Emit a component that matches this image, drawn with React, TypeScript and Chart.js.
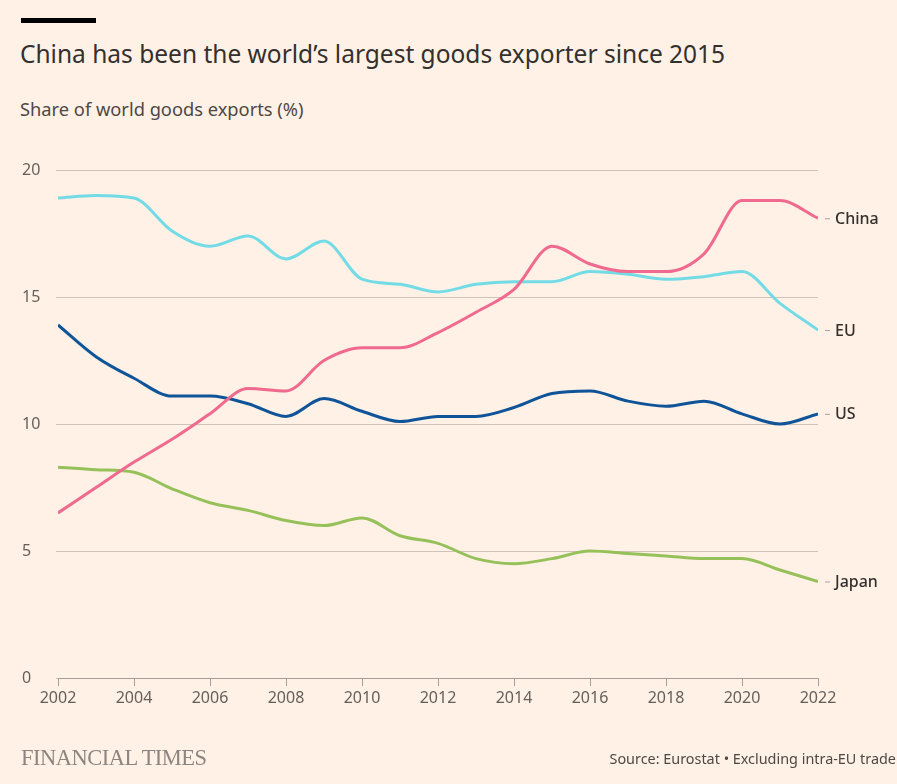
import React, { useEffect, useRef } from "react";
import { Chart, registerables } from "chart.js";

Chart.register(...registerables);

const years = [2002, 2003, 2004, 2005, 2006, 2007, 2008, 2009, 2010, 2011, 2012, 2013, 2014, 2015, 2016, 2017, 2018, 2019, 2020, 2021, 2022];
const china = [6.5, 7.5, 8.5, 9.4, 10.4, 11.4, 11.3, 12.5, 13.0, 13.0, 13.6, 14.4, 15.3, 17.0, 16.3, 16.0, 16.0, 16.7, 18.8, 18.8, 18.1];
const eu = [18.9, 19.0, 18.9, 17.6, 17.0, 17.4, 16.5, 17.2, 15.7, 15.5, 15.2, 15.5, 15.6, 15.6, 16.0, 15.9, 15.7, 15.8, 16.0, 14.75, 13.7];
const us = [13.9, 12.65, 11.8, 11.1, 11.1, 10.8, 10.3, 11.0, 10.5, 10.1, 10.3, 10.3, 10.65, 11.2, 11.3, 10.9, 10.7, 10.9, 10.4, 10.0, 10.4];
const japan = [8.3, 8.2, 8.1, 7.45, 6.9, 6.6, 6.2, 6.0, 6.3, 5.6, 5.3, 4.7, 4.5, 4.7, 5.0, 4.9, 4.8, 4.7, 4.7, 4.25, 3.8];
const yTicks = [0, 5, 10, 15, 20];
const seriesNames = ["China", "EU", "US", "Japan"];
const seriesColors = ["#ef6a8e", "#73dbe6", "#0f5499", "#96c15a"];

const BG = "#fff1e5";
const FONT = "'Noto Sans', sans-serif";

export default function App() {
  const ref = useRef<HTMLCanvasElement | null>(null);

  useEffect(() => {
    document.body.style.margin = "0";
    const canvas = ref.current!;
    const data = [china, eu, us, japan];
    const endLabels = {
      id: "endLabels",
      afterDatasetsDraw(chart: any) {
        const ctx = chart.ctx;
        const x = chart.scales.x;
        const y = chart.scales.y;
        ctx.save();
        data.forEach((arr, i) => {
          const v = arr[arr.length - 1];
          const py = y.getPixelForValue(v);
          const px = x.getPixelForValue(years[years.length - 1]);
          ctx.strokeStyle = "#a9a19b";
          ctx.lineWidth = 1;
          ctx.beginPath();
          ctx.moveTo(px + 7, py + 0.5);
          ctx.lineTo(px + 12, py + 0.5);
          ctx.stroke();
          ctx.fillStyle = "#33302e";
          ctx.font = `500 16px ${FONT}`;
          ctx.textBaseline = "middle";
          ctx.textAlign = "left";
          ctx.fillText(seriesNames[i], px + 17, py + 1);
        });
        ctx.restore();
      },
    };
    const chart = new Chart(canvas, {
      type: "line",
      data: {
        labels: years,
        datasets: data.map((arr, i) => ({
          label: seriesNames[i],
          data: arr.map((v, j) => ({ x: years[j], y: v })),
          borderColor: seriesColors[i],
          backgroundColor: seriesColors[i],
          borderWidth: 3,
          pointRadius: 0,
          cubicInterpolationMode: "monotone" as const,
          fill: false,
        })),
      },
      options: {
        responsive: false,
        animation: false,
        events: [],
        layout: { padding: { left: 22, right: 79, top: 170, bottom: 58 } },
        plugins: { legend: { display: false }, tooltip: { enabled: false }, title: { display: false } },
        scales: {
          x: {
            type: "linear",
            min: 2002,
            max: 2022,
            afterFit: (s: any) => { s.height = 48; },
            afterBuildTicks: (s: any) => { s.ticks = years.filter((y) => y % 2 === 0).map((v) => ({ value: v })); },
            grid: { display: true, drawOnChartArea: false, drawTicks: true, tickLength: 8, color: "#a59d97" },
            border: { display: true, color: "#a59d97", width: 1 },
            ticks: {
              color: "#66605c",
              font: { family: FONT, size: 16 },
              padding: 3,
              maxRotation: 0,
              autoSkip: false,
              callback: (v: any) => String(v),
            },
          },
          y: {
            min: 0,
            max: 20,
            afterFit: (s: any) => { s.width = 36; },
            afterBuildTicks: (s: any) => { s.ticks = yTicks.map((v) => ({ value: v })); },
            grid: { color: "#cfc3b8", tickLength: 2, drawTicks: true, lineWidth: 1 },
            border: { display: false },
            ticks: {
              color: "#66605c",
              font: { family: FONT, size: 16 },
              padding: 0,
              crossAlign: "far",
              callback: (v: any) => String(v),
            },
          },
        },
      },
      plugins: [endLabels],
    });
    return () => chart.destroy();
  }, []);

  return (
    <div style={{ position: "relative", width: 897, height: 784, background: BG, overflow: "hidden", fontFamily: FONT }}>
      <div style={{ position: "absolute", left: 21, top: 18, width: 75, height: 5, background: "#000" }} />
      <div style={{ position: "absolute", left: 20, top: 42, fontSize: 24.5, lineHeight: "24px", color: "#33302e", whiteSpace: "nowrap" }}>
        China has been the world’s largest goods exporter since 2015
      </div>
      <div style={{ position: "absolute", left: 20, top: 100, fontSize: 18.3, lineHeight: "18px", color: "#4d4845", whiteSpace: "nowrap" }}>
        Share of world goods exports (%)
      </div>
      <canvas ref={ref} width={897} height={784} style={{ position: "absolute", left: 0, top: 0, width: 897, height: 784 }} />
      <div style={{ position: "absolute", left: 21, top: 747, fontFamily: "'Liberation Serif', serif", fontSize: 22.5, lineHeight: "22px", color: "#8d8580", whiteSpace: "nowrap", letterSpacing: -0.5 }}>
        FINANCIAL TIMES
      </div>
      <div style={{ position: "absolute", right: 1, top: 752, fontSize: 14.4, lineHeight: "14px", color: "#4d4845", whiteSpace: "nowrap" }}>
        Source: Eurostat • Excluding intra-EU trade
      </div>
    </div>
  );
}
